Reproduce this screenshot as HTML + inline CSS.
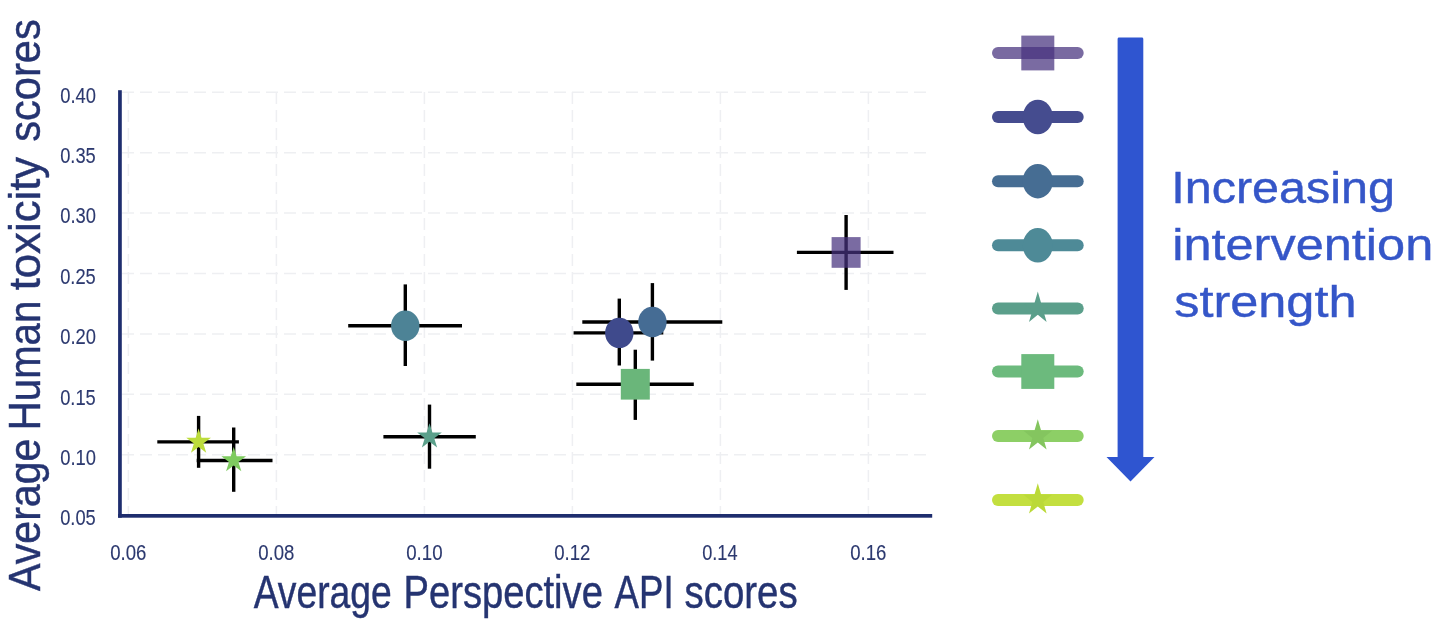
<!DOCTYPE html>
<html lang="en"><head><meta charset="utf-8"><title>Toxicity scores chart</title>
<style>html,body{margin:0;padding:0;background:#fff;}body{width:1440px;height:625px;overflow:hidden;}svg{display:block;}text{font-family:"Liberation Sans",sans-serif;}</style>
</head><body>
<svg width="1440" height="625" viewBox="0 0 1440 625">
<rect width="1440" height="625" fill="#ffffff"/>
<g stroke="#eeeff2" stroke-width="1.5" stroke-dasharray="12 6" fill="none">
<line x1="128.4" y1="92" x2="128.4" y2="514"/>
<line x1="276.4" y1="92" x2="276.4" y2="514"/>
<line x1="424.4" y1="92" x2="424.4" y2="514"/>
<line x1="572.4" y1="92" x2="572.4" y2="514"/>
<line x1="720.4" y1="92" x2="720.4" y2="514"/>
<line x1="868.4" y1="92" x2="868.4" y2="514"/>
<line x1="122" y1="92.3" x2="932" y2="92.3"/>
<line x1="122" y1="152.7" x2="932" y2="152.7"/>
<line x1="122" y1="213.1" x2="932" y2="213.1"/>
<line x1="122" y1="273.5" x2="932" y2="273.5"/>
<line x1="122" y1="333.9" x2="932" y2="333.9"/>
<line x1="122" y1="394.3" x2="932" y2="394.3"/>
<line x1="122" y1="454.7" x2="932" y2="454.7"/>
</g>
<g stroke="#000" stroke-width="3.4" fill="none">
<line x1="796.9" y1="252.4" x2="893.5" y2="252.4"/><line x1="846.1" y1="215.0" x2="846.1" y2="289.9"/>
<line x1="573.6" y1="332.9" x2="663.3" y2="332.9"/><line x1="619.3" y1="298.6" x2="619.3" y2="365.5"/>
<line x1="582.3" y1="322.0" x2="722.3" y2="322.0"/><line x1="652.4" y1="283.1" x2="652.4" y2="360.6"/>
<line x1="348.2" y1="325.7" x2="462.0" y2="325.7"/><line x1="405.3" y1="284.4" x2="405.3" y2="366.0"/>
<line x1="383.4" y1="436.7" x2="475.8" y2="436.7"/><line x1="429.5" y1="404.6" x2="429.5" y2="468.7"/>
<line x1="576.3" y1="384.3" x2="693.8" y2="384.3"/><line x1="635.3" y1="349.7" x2="635.3" y2="419.9"/>
<line x1="196.7" y1="460.5" x2="272.5" y2="460.5"/><line x1="233.7" y1="427.5" x2="233.7" y2="491.8"/>
<line x1="157.3" y1="441.9" x2="238.9" y2="441.9"/><line x1="198.6" y1="415.9" x2="198.6" y2="467.8"/>
</g>
<rect x="831.6" y="237.1" width="29" height="30.7" fill="#46327e" fill-opacity="0.72"/>
<ellipse cx="619.3" cy="332.9" rx="14.2" ry="15.2" fill="#3f4a8c"/>
<ellipse cx="652.4" cy="322.0" rx="14.2" ry="15.2" fill="#456c94"/>
<ellipse cx="405.3" cy="325.7" rx="14.2" ry="15.2" fill="#4d8396"/>
<polygon points="429.50,423.30 432.42,432.56 441.86,432.56 434.22,438.28 437.14,447.54 429.50,441.82 421.86,447.54 424.78,438.28 417.14,432.56 426.58,432.56" fill="#5ba08b"/>
<rect x="620.8" y="368.9" width="29" height="30.7" fill="#6ab67a"/>
<polygon points="233.70,447.10 236.62,456.36 246.06,456.36 238.42,462.08 241.34,471.34 233.70,465.62 226.06,471.34 228.98,462.08 221.34,456.36 230.78,456.36" fill="#7ecb5f"/>
<polygon points="198.60,428.50 201.52,437.76 210.96,437.76 203.32,443.48 206.24,452.74 198.60,447.02 190.96,452.74 193.88,443.48 186.24,437.76 195.68,437.76" fill="#bcdc3c"/>
<rect x="118.1" y="90.2" width="3.7" height="427.5" fill="#1e2d6e"/>
<rect x="118.1" y="514" width="814.1" height="3.7" fill="#1e2d6e"/>
<g fill="#2c396f" stroke="#2c396f" stroke-width="0.12" font-size="22.6">
<text x="110.2" y="560.2" textLength="36.22" lengthAdjust="spacingAndGlyphs">0.06</text>
<text x="258.2" y="560.2" textLength="36.22" lengthAdjust="spacingAndGlyphs">0.08</text>
<text x="406.2" y="560.2" textLength="36.41" lengthAdjust="spacingAndGlyphs">0.10</text>
<text x="554.2" y="560.2" textLength="36.22" lengthAdjust="spacingAndGlyphs">0.12</text>
<text x="702.2" y="560.2" textLength="35.4" lengthAdjust="spacingAndGlyphs">0.14</text>
<text x="850.2" y="560.2" textLength="36.22" lengthAdjust="spacingAndGlyphs">0.16</text>
<text x="60.2" y="102.5" textLength="35.79" lengthAdjust="spacingAndGlyphs">0.40</text>
<text x="60.2" y="162.9" textLength="35.61" lengthAdjust="spacingAndGlyphs">0.35</text>
<text x="60.2" y="223.3" textLength="35.79" lengthAdjust="spacingAndGlyphs">0.30</text>
<text x="60.2" y="283.7" textLength="35.61" lengthAdjust="spacingAndGlyphs">0.25</text>
<text x="60.2" y="344.1" textLength="35.79" lengthAdjust="spacingAndGlyphs">0.20</text>
<text x="60.2" y="404.5" textLength="35.61" lengthAdjust="spacingAndGlyphs">0.15</text>
<text x="60.2" y="464.9" textLength="35.79" lengthAdjust="spacingAndGlyphs">0.10</text>
<text x="60.2" y="525.3" textLength="35.61" lengthAdjust="spacingAndGlyphs">0.05</text>
</g>
<g fill="#253471" stroke="#253471" stroke-width="0.45" font-size="45.8">
<text x="253.7" y="607.8" textLength="138.02" lengthAdjust="spacingAndGlyphs">Average</text>
<text x="403.5" y="607.8" textLength="199.37" lengthAdjust="spacingAndGlyphs">Perspective</text>
<text x="614.6" y="607.8" textLength="59.06" lengthAdjust="spacingAndGlyphs">API</text>
<text x="684.5" y="607.8" textLength="113.19" lengthAdjust="spacingAndGlyphs">scores</text>
</g>
<g transform="translate(40.3 591) rotate(-90)" fill="#253471" stroke="#253471" stroke-width="0.45" font-size="43.6">
<text x="0" y="0" textLength="152.51" lengthAdjust="spacingAndGlyphs">Average</text>
<text x="160.8" y="0" textLength="129.5" lengthAdjust="spacingAndGlyphs">Human</text>
<text x="300.7" y="0" textLength="133.44" lengthAdjust="spacingAndGlyphs">toxicity</text>
<text x="449.2" y="0" textLength="122.5" lengthAdjust="spacingAndGlyphs">scores</text>
</g>
<line x1="998" y1="53" x2="1077.7" y2="53" stroke="#46327e" stroke-width="12" stroke-linecap="round" opacity="0.72"/>
<rect x="1021.3" y="35.6" width="33" height="34.8" fill="#46327e" opacity="0.72"/>
<line x1="998" y1="117" x2="1077.7" y2="117" stroke="#454c8f" stroke-width="12" stroke-linecap="round"/>
<ellipse cx="1037.8" cy="117" rx="15" ry="17.2" fill="#454c8f"/>
<line x1="998" y1="181.2" x2="1077.7" y2="181.2" stroke="#466d93" stroke-width="12" stroke-linecap="round"/>
<ellipse cx="1037.8" cy="181.2" rx="15" ry="17.2" fill="#466d93"/>
<line x1="998" y1="245.3" x2="1077.7" y2="245.3" stroke="#4e8a97" stroke-width="12" stroke-linecap="round"/>
<ellipse cx="1037.8" cy="245.3" rx="15" ry="17.2" fill="#4e8a97"/>
<line x1="998" y1="308.4" x2="1077.7" y2="308.4" stroke="#5b9f8b" stroke-width="12" stroke-linecap="round"/>
<polygon points="1037.80,291.60 1041.17,303.21 1052.07,303.21 1043.25,310.38 1046.62,321.99 1037.80,314.82 1028.98,321.99 1032.35,310.38 1023.53,303.21 1034.43,303.21" fill="#5b9f8b"/>
<line x1="998" y1="371.5" x2="1077.7" y2="371.5" stroke="#6cba7d" stroke-width="12" stroke-linecap="round"/>
<rect x="1021.3" y="354.1" width="33" height="34.8" fill="#6cba7d"/>
<line x1="998" y1="436" x2="1077.7" y2="436" stroke="#8dcf66" stroke-width="12" stroke-linecap="round"/>
<polygon points="1037.80,419.20 1041.17,430.81 1052.07,430.81 1043.25,437.98 1046.62,449.59 1037.80,442.42 1028.98,449.59 1032.35,437.98 1023.53,430.81 1034.43,430.81" fill="#84c55f"/>
<line x1="998" y1="500" x2="1077.7" y2="500" stroke="#c3df3f" stroke-width="12" stroke-linecap="round"/>
<polygon points="1037.80,483.20 1041.17,494.81 1052.07,494.81 1043.25,501.98 1046.62,513.59 1037.80,506.42 1028.98,513.59 1032.35,501.98 1023.53,494.81 1034.43,494.81" fill="#bbd938"/>
<path d="M1119 37.5 H1141.9 Q1143.3 37.5 1143.3 38.9 V456.9 H1154.5 L1130.5 481.6 L1106.5 456.9 H1117.6 V38.9 Q1117.6 37.5 1119 37.5 Z" fill="#2f55d0"/>
<g fill="#3556c8" stroke="#3556c8" stroke-width="0.4" font-size="43.7">
<text x="1171.2" y="203.2" textLength="223.79" lengthAdjust="spacingAndGlyphs">Increasing</text>
<text x="1172.2" y="260" textLength="261.09" lengthAdjust="spacingAndGlyphs">intervention</text>
<text x="1174.2" y="317.2" textLength="182.3" lengthAdjust="spacingAndGlyphs">strength</text>
</g>
</svg></body></html>
